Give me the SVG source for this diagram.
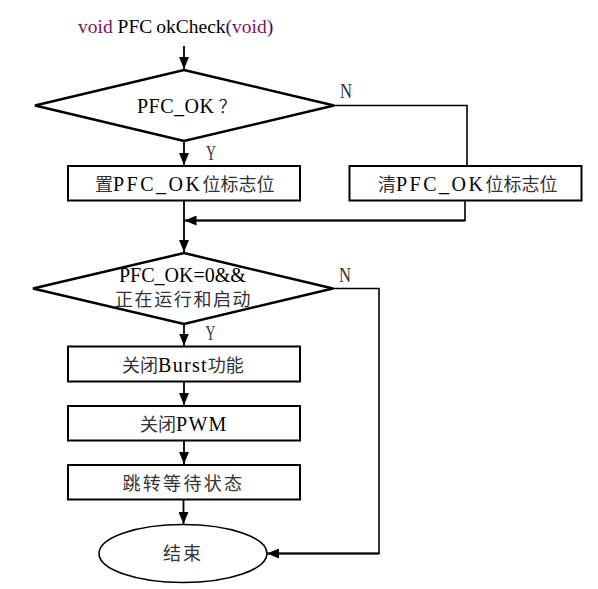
<svg xmlns="http://www.w3.org/2000/svg" width="598" height="589" viewBox="0 0 598 589">
  <style>
    .bg { fill: #ffffff; }
    .dia { fill: #ffffff; stroke: #000000; stroke-width: 2.4; stroke-linejoin: miter; }
    .box { fill: #ffffff; stroke: #000000; stroke-width: 2; }
    .term { fill: #ffffff; stroke: #000000; stroke-width: 1.6; }
    .wire { fill: none; stroke: #000000; stroke-width: 1.6; }
    .arr { fill: none; stroke: #000000; stroke-width: 1.8; marker-end: url(#ah); }
    .t { font-family: "Liberation Serif", "Noto Sans CJK SC", serif; font-size: 18px; fill: #333333; }
    .lat { font-size: 20px; fill: #000000; }
    .cjk { font-family: "Noto Sans CJK SC", sans-serif; }
    .lbl { font-family: "Liberation Serif", serif; font-size: 20px; fill: #333333; }
    .kw { fill: #7a1558; }
    .par { fill: #1c1c5c; }
  </style>
  <defs>
    <marker id="ah" markerWidth="12" markerHeight="10" refX="12" refY="5" orient="auto" markerUnits="userSpaceOnUse">
      <path d="M0,0 L12,5 L0,10 z" fill="#000000"/>
    </marker>
  </defs>
  <rect class="bg" x="0" y="0" width="598" height="589"/>

  <g id="title">
    <text class="t" x="78" y="33" style="font-size:19.5px"><tspan class="kw">void</tspan><tspan fill="#000"> PFC</tspan><tspan fill="#000" dx="4">okCheck</tspan><tspan class="par">(</tspan><tspan class="kw">void</tspan><tspan class="par">)</tspan></text>
  </g>

  <g id="connectors">
    <path class="arr" d="M184,46 V69"/>
    <path class="wire" d="M334,105.5 H467 V166"/>
    <path class="arr" d="M184,141 V165"/>
    <path class="wire" d="M465,200.5 V220.5 H185"/>
    <path class="arr" d="M465,220.5 H184.5"/>
    <path class="arr" d="M184,200.5 V252"/>
    <path class="wire" d="M333,288.5 H379 V553.5 H268"/>
    <path class="arr" d="M379,553.5 H267"/>
    <path class="arr" d="M184,324 V345.5"/>
    <path class="arr" d="M184,381.5 V405"/>
    <path class="arr" d="M184,440.5 V464"/>
    <path class="arr" d="M183.5,499.5 V524"/>
  </g>

  <g id="labels">
    <text class="lbl" x="340" y="98" textLength="12" lengthAdjust="spacingAndGlyphs">N</text>
    <text class="lbl" x="206" y="159.5" textLength="10" lengthAdjust="spacingAndGlyphs">Y</text>
    <text class="lbl" x="339" y="281.5" textLength="12" lengthAdjust="spacingAndGlyphs">N</text>
    <text class="lbl" x="205.5" y="340" textLength="10" lengthAdjust="spacingAndGlyphs">Y</text>
  </g>

  <g id="decision1">
    <polygon class="dia" points="184,70 334,105.5 184,141 35,105.5"/>
    <text class="t" x="137" y="113"><tspan class="lat" letter-spacing="0.5">PFC_OK</tspan><tspan class="cjk" dx="4">？</tspan></text>
  </g>

  <g id="set-flag">
    <rect class="box" x="68" y="166" width="232" height="34.5"/>
    <text class="t" x="95" y="190.5">置<tspan class="lat" letter-spacing="2.5">PFC_OK</tspan>位标志位</text>
  </g>

  <g id="clear-flag">
    <rect class="box" x="349.5" y="166" width="232" height="34.5"/>
    <text class="t" x="378" y="190.5">清<tspan class="lat" letter-spacing="2.5">PFC_OK</tspan>位标志位</text>
  </g>

  <g id="decision2">
    <polygon class="dia" points="184,253 333,288.5 184,324 33,288.5"/>
    <text class="t" x="119" y="281.5"><tspan class="lat">PFC_OK=0&amp;&amp;</tspan></text>
    <text class="t" x="115" y="305.5" letter-spacing="1.6">正在运行和启动</text>
  </g>

  <g id="burst-off">
    <rect class="box" x="68" y="346.5" width="232" height="35"/>
    <text class="t" x="122" y="371.5">关闭<tspan class="lat" letter-spacing="1.3">Burst</tspan>功能</text>
  </g>

  <g id="pwm-off">
    <rect class="box" x="68" y="406" width="232" height="34.5"/>
    <text class="t" x="140" y="431">关闭<tspan class="lat" letter-spacing="1.3">PWM</tspan></text>
  </g>

  <g id="wait-state">
    <rect class="box" x="68" y="465" width="232" height="34.5"/>
    <text class="t" x="122.5" y="489.5" letter-spacing="2.3">跳转等待状态</text>
  </g>

  <g id="end">
    <ellipse class="term" cx="183" cy="553.5" rx="84" ry="29"/>
    <text class="t" x="163" y="560" letter-spacing="2">结束</text>
  </g>
</svg>
